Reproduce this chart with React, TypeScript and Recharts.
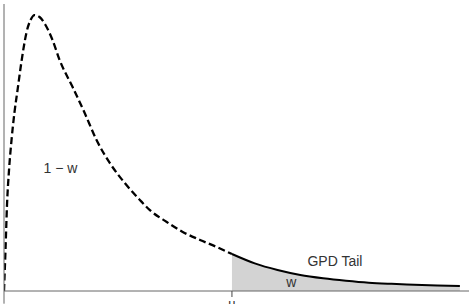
import { ComposedChart, Line, Area, XAxis, YAxis, ReferenceLine, ReferenceDot } from "recharts";

// body of the density (dashed, up to the threshold u)
const bodyX = [0, 0.033, 0.066, 0.11, 0.165, 0.231, 0.297, 0.363, 0.429, 0.495, 0.582, 0.67, 0.78, 0.91, 1.066, 1.22, 1.505, 1.77, 2.03, 2.32, 2.65, 2.98, 3.2, 3.57, 3.92, 4.3, 4.67, 5.0];
const bodyY = [0, 0.149, 0.312, 0.438, 0.547, 0.649, 0.728, 0.808, 0.88, 0.938, 0.982, 1.0, 0.993, 0.964, 0.909, 0.837, 0.739, 0.645, 0.547, 0.464, 0.391, 0.33, 0.293, 0.25, 0.214, 0.185, 0.159, 0.134];

// GPD tail beyond u
const tailX = [5.0, 5.5, 6.0, 6.5, 7.0, 7.5, 8.0, 8.5, 9.0, 9.5, 10.0];
const tailY = [0.134, 0.1, 0.076, 0.058, 0.046, 0.037, 0.03, 0.026, 0.023, 0.02, 0.018];

const threshold = 5;
const tickLabels = ["u"];

const bodyData = bodyX.map((x, i) => ({ x, y: bodyY[i] }));
const tailData = tailX.map((x, i) => ({ x, y: tailY[i] }));

const textStyle = { fontSize: 14, fill: "#333" };

export default function App() {
  return (
    <div style={{ position: "absolute", left: 0, top: 0, fontFamily: "'Liberation Sans', Arial, sans-serif" }}>
      <ComposedChart width={473} height={304} margin={{ top: 4, right: 4, bottom: 0, left: 0 }}>
        <XAxis
          type="number"
          dataKey="x"
          domain={[0, 10.2]}
          ticks={[threshold]}
          tickFormatter={() => tickLabels[0]}
          height={13}
          tickSize={6}
          axisLine={{ stroke: "#666" }}
          tickLine={{ stroke: "#444" }}
          tick={{ fontSize: 13, fill: "#333" }}
          allowDataOverflow
        />
        <YAxis type="number" domain={[0, 1.04]} width={4} tick={false} tickLine={false} axisLine={{ stroke: "#666" }} />
        <ReferenceLine
          segment={[{ x: 0, y: 0 }, { x: 0, y: -0.046 }]}
          stroke="#666"
          ifOverflow="visible"
        />
        <Area
          data={tailData}
          dataKey="y"
          type="monotone"
          stroke="#000"
          strokeWidth={2}
          fill="#d3d3d3"
          fillOpacity={1}
          baseValue={0}
          isAnimationActive={false}
        />
        <Line
          data={bodyData}
          dataKey="y"
          type="monotone"
          stroke="#000"
          strokeWidth={2.3}
          strokeDasharray="7 3.5"
          dot={false}
          isAnimationActive={false}
        />
        <ReferenceDot x={1.24} y={0.446} r={0} label={{ value: "1 − w", position: "center", ...textStyle }} />
        <ReferenceDot x={7.26} y={0.109} r={0} label={{ value: "GPD Tail", position: "center", ...textStyle }} />
        <ReferenceDot x={6.3} y={0.033} r={0} label={{ value: "w", position: "center", ...textStyle }} />
      </ComposedChart>
    </div>
  );
}
